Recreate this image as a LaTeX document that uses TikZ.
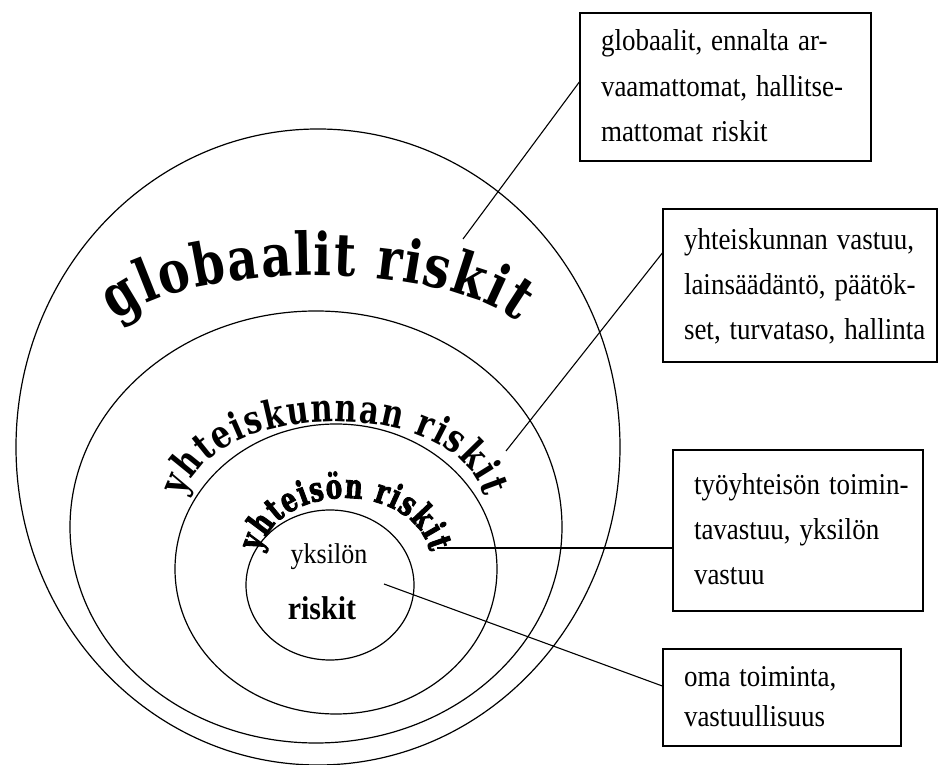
\documentclass[tikz,border=0pt]{standalone}
\usepackage{fontspec}
\usepackage{graphicx}
\setmainfont{Liberation Serif}
\newfontfamily\arcfont{DejaVu Serif}[FakeStretch=0.8]
\newfontfamily\arcfontB{DejaVu Serif}[FakeStretch=0.78]
\newfontfamily\arcfontC{DejaVu Serif}[FakeStretch=0.72,FakeBold=2.5]
\usetikzlibrary{decorations.text}
\newcommand\boxlines[1]{\scalebox{1}[1.12]{\begin{tabular}{@{}l@{}}#1\end{tabular}}}
\tikzset{
  ring/.style={line width=1.2pt},
  conn/.style={line width=1.1pt},
  infobox/.style={draw, rectangle, line width=1.3pt, inner xsep=21pt, inner ysep=0pt, align=left,
    font=\fontsize{27}{40.5}\selectfont},
}
\begin{document}
\begin{tikzpicture}[x=1pt,y=1pt]
\useasboundingbox (0,0) rectangle (938,764);
% boxes
\node[infobox, minimum width=291pt, minimum height=148pt, text width=249pt] (b1) at (725.5,677)
  {\boxlines{globaalit, ennalta ar-\\vaamattomat, hallitse-\\mattomat riskit}};
\node[infobox, minimum width=274pt, minimum height=153pt, text width=232pt] (b2) at (800,478.5)
  {\boxlines{yhteiskunnan vastuu,\\lainsäädäntö, päätök-\\set, turvataso, hallinta}};
\node[infobox, minimum width=250pt, minimum height=161pt, text width=208pt] (b3) at (798,233.5)
  {\boxlines{työyhteisön toimin-\\tavastuu, yksilön\\vastuu}};
\node[infobox, minimum width=238pt, minimum height=97pt, text width=196pt] (b4) at (782,66.5)
  {\boxlines{oma toiminta,\\[-5pt]vastuullisuus}};
% inner texts
\node[font=\fontsize{26}{26}\selectfont] (yk) at (329,207) {\scalebox{1}[1.1]{yksilön}};
\node[font=\fontsize{30}{30}\selectfont\bfseries] (rk) at (322,156) {\scalebox{1}[1.1]{riskit}};
% rings
\draw[ring] (318,317) ellipse [x radius=302, y radius=318];
\draw[ring] (316,237) ellipse [x radius=246, y radius=216];
\draw[ring] (336,195) ellipse [x radius=161, y radius=145];
\draw[ring] (330,179) ellipse [x radius=84, y radius=75];
% arc texts
\path[decorate, decoration={text along path, text align={fit to path},
  text={|\arcfont\bfseries\fontsize{59}{59}\selectfont|globaalit riskit}}]
  (116,442) .. controls (190,504) and (440,504) .. (517,442);
\path[decorate, decoration={text along path, text align={fit to path},
  text={|\arcfontB\bfseries\fontsize{39}{39}\selectfont|yhteiskunnan riskit}}]
  (184,267) .. controls (212,368) and (458,368) .. (484,267);
\path[decorate, decoration={text along path, text align={fit to path},
  text={|\arcfontC\bfseries\fontsize{34}{34}\selectfont|yhteisön riskit}}]
  (260,212) .. controls (278,284) and (412,284) .. (430,212);
% connector ends
\coordinate (p1) at (463,525);
\coordinate (p2) at (506,313);
\coordinate (p3) at (437,216);
\coordinate (p4) at (384,180);
\draw[conn] (p1) -- ([yshift=5pt]b1.west);
\draw[conn] (p2) -- ([yshift=32.5pt]b2.west);
\draw[conn] (p3) -- ([yshift=-17.5pt]b3.west);
\draw[conn] (p4) -- ([yshift=11.5pt]b4.west);
\end{tikzpicture}
\end{document}
